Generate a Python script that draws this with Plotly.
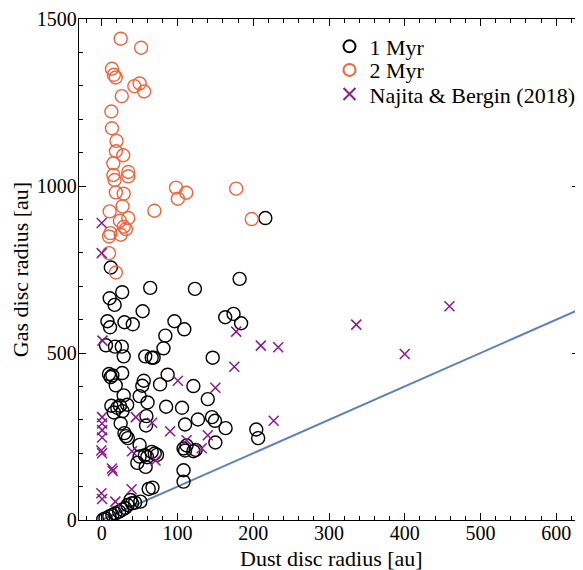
import plotly.graph_objects as go

# ---- data ----
myr1_dust = [216, 12, 182, 10.5, 17, 27, 64, 123, 54, 7.5, 11, 30, 41, 96, 109, 163, 174, 184,
             84, 5.6, 17.5, 26.5, 29, 81.5, 57.5, 66, 68.5, 146.5, 9.6, 11.8, 14, 27, 18.5, 55.5,
             53.5, 77, 87, 121, 29, 50, 60.5, 12.7, 16, 24, 27.5, 20.5, 33.6, 85, 106, 140, 145.5,
             149.5, 127, 163.5, 59, 58.5, 25, 110, 30, 32, 34.5, 204, 206.5, 150, 50, 112, 108, 110,
             121, 124, 50, 57, 60, 66, 70, 73, 47, 58, 108, 108, 62, 67, 51, 38, 40, 34, 31, 27, 23,
             18, 14, 10, 5, 2, 44]
myr1_gas = [904, 756, 722, 664, 644, 682, 695, 692, 625, 595, 577, 592, 586, 595, 571, 607, 617, 589,
            552, 523, 519, 519, 490, 514, 490, 486, 486, 486, 437, 428, 433, 440, 403, 417,
            402, 406, 435, 401, 373, 371, 352, 342, 322, 342, 326, 336, 345, 339, 336, 362, 308,
            297, 301, 275, 311, 283, 289, 286, 260, 251, 245, 271, 245, 232, 225, 223, 214, 208,
            206, 210, 190, 194, 188, 204, 199, 195, 171, 159, 149, 115, 93, 97, 55, 60, 50, 45, 36, 31, 25,
            20, 15, 11, 5, 2, 52]

myr2_dust = [25, 52, 13.5, 16, 18.5, 43, 50, 56, 26.5, 12.7, 13.5, 19.5, 18.7, 28.4, 15.3, 35, 35,
             15.3, 17, 18.7, 29, 27.5, 10.5, 69.5, 24, 35, 29, 32, 25, 11.4, 9.6, 9.6, 18.7, 98,
             111.5, 100.5, 177.5, 198]
myr2_gas = [1441, 1414, 1351, 1333, 1325, 1299, 1307, 1283, 1269, 1223, 1173, 1135, 1104, 1092, 1068,
            1042, 1029, 1033, 1018, 981, 977, 939, 924, 926, 896, 904, 878, 871, 854, 859, 849, 799, 741,
            995, 980, 962, 992, 901]

nb_dust = [0, 0, 1, 177.5, 210, 233, 175, 100.5, 150, 227, 0.5, 0.5, 0.5, 0.5, -0.5, 0.5, 45, 66.5,
           90.3, 140, 112, 132, 40, 71, 13.5, 14.5, -0.5, 0.5, 18, 39.5, 336, 400, 459]
nb_gas = [889, 799, 537, 564, 522, 517, 459, 417, 396, 297, 308, 289, 269, 247, 208, 200, 308, 291,
          266, 254, 239, 215, 206, 178, 154, 147, 80, 63, 55, 92, 585, 497, 640]

line_x = [0, 630]
line_y = [0, 630]

legend_names = ["1 Myr", "2 Myr", "Najita & Bergin (2018)"]
x_title = "Dust disc radius [au]"
y_title = "Gas disc radius [au]"

FONT = "Liberation Serif"
BLACK = "#000000"
ORANGE = "#f0643c"
PURPLE = "#8b1a8b"
BLUE = "#5b80bb"

fig = go.Figure()
fig.add_trace(go.Scatter(x=line_x, y=line_y, mode="lines", line=dict(color=BLUE, width=2),
                         showlegend=False, hoverinfo="skip"))
fig.add_trace(go.Scatter(x=myr1_dust, y=myr1_gas, mode="markers", name=legend_names[0], legend="legend",
                         marker=dict(symbol="circle-open", size=13, color=BLACK, line=dict(width=1.4))))
fig.add_trace(go.Scatter(x=myr2_dust, y=myr2_gas, mode="markers", name=legend_names[1], legend="legend2",
                         marker=dict(symbol="circle-open", size=13, color=ORANGE, line=dict(width=1.4))))
fig.add_trace(go.Scatter(x=nb_dust, y=nb_gas, mode="markers", name=legend_names[2], legend="legend3",
                         marker=dict(symbol="x-thin-open", size=10, color=PURPLE,
                                     line=dict(width=1.5, color=PURPLE))))

axis_common = dict(
    showgrid=False, zeroline=False, showline=True, linecolor="black", linewidth=1.3,
    mirror="allticks", ticks="inside", ticklen=7, tickwidth=1.2, tickcolor="black",
    tickfont=dict(family=FONT, size=20, color="black"), automargin=False,
)

fig.update_xaxes(range=[-30, 630], tick0=0, dtick=100, ticklabelstandoff=-5,
                 minor=dict(ticks="inside", dtick=20, tick0=0, ticklen=4, tickwidth=1, tickcolor="black"),
                 **axis_common)
fig.update_yaxes(range=[0, 1500], tick0=0, dtick=500, ticklabelstandoff=-3,
                 minor=dict(ticks="inside", dtick=100, tick0=0, ticklen=4, tickwidth=1, tickcolor="black"),
                 title=dict(text=y_title, font=dict(family=FONT, size=22, color="black")),
                 **axis_common)

leg_common = dict(x=0.5, xanchor="left", yanchor="middle", bgcolor="rgba(0,0,0,0)",
                  font=dict(family=FONT, size=22, color="black"), itemsizing="constant",
                  borderwidth=0)

fig.update_layout(
    width=575, height=562,
    margin=dict(l=71, r=3, t=11, b=50),
    paper_bgcolor="white", plot_bgcolor="white",
    font=dict(family=FONT, color="black"),
    legend=dict(y=0.945, **leg_common),
    legend2=dict(y=0.898, **leg_common),
    legend3=dict(y=0.850, **leg_common),
    annotations=[dict(text=x_title, xref="paper", yref="paper", x=0.505, y=0,
                      xanchor="center", yanchor="middle", yshift=-38, showarrow=False,
                      font=dict(family=FONT, size=22, color="black"))],
)

fig.write_html("out.html")
